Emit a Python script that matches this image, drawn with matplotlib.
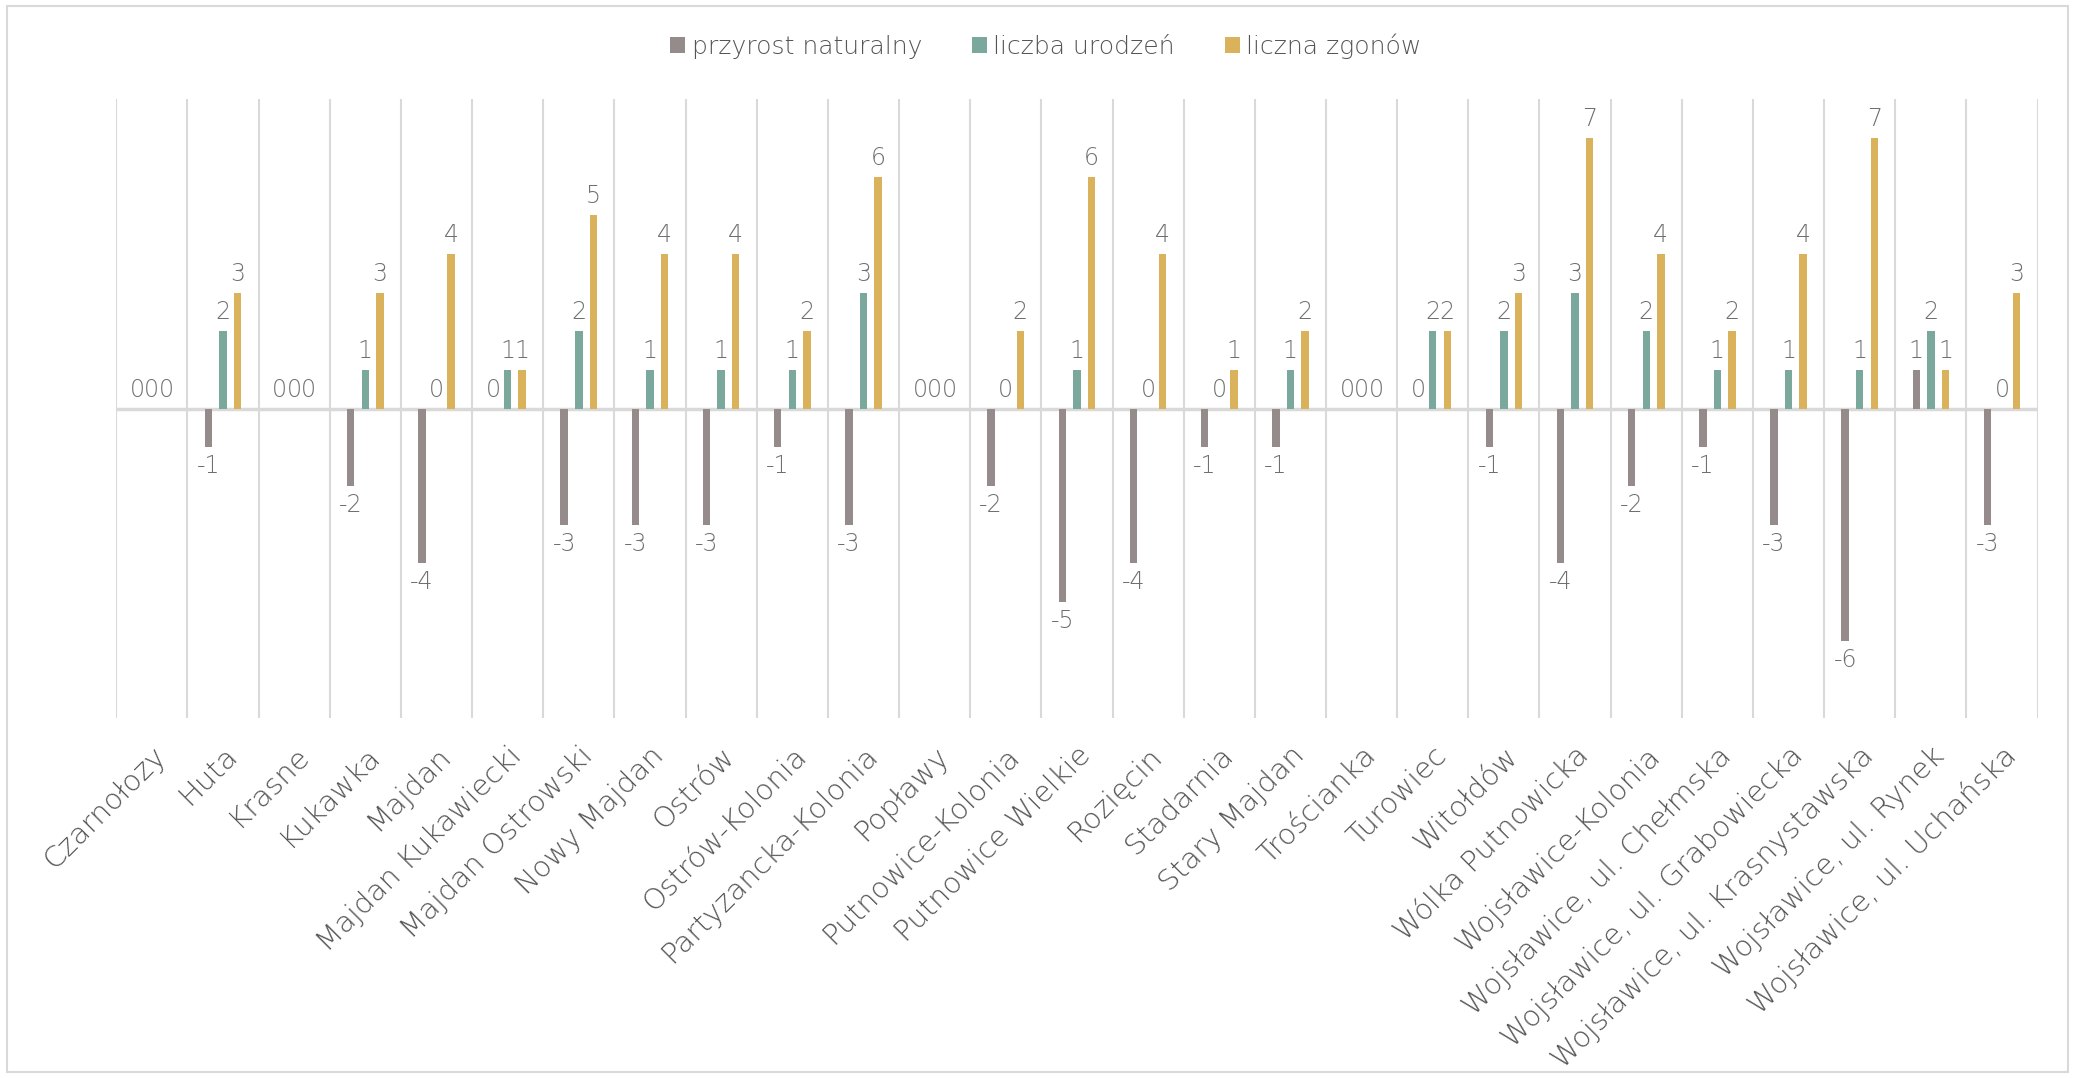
import numpy as np
import matplotlib.pyplot as plt
from matplotlib.patches import Rectangle

plt.rcParams['font.family'] = ['DejaVu Sans']

categories = ["Czarnołozy", "Huta", "Krasne", "Kukawka", "Majdan", "Majdan Kukawiecki",
              "Majdan Ostrowski", "Nowy Majdan", "Ostrów", "Ostrów-Kolonia",
              "Partyzancka-Kolonia", "Popławy", "Putnowice-Kolonia", "Putnowice Wielkie",
              "Rozięcin", "Stadarnia", "Stary Majdan", "Trościanka", "Turowiec", "Witołdów",
              "Wólka Putnowicka", "Wojsławice-Kolonia", "Wojsławice, ul. Chełmska",
              "Wojsławice, ul. Grabowiecka", "Wojsławice, ul. Krasnystawska",
              "Wojsławice, ul. Rynek", "Wojsławice, ul. Uchańska"]
przyrost = [0, -1, 0, -2, -4, 0, -3, -3, -3, -1, -3, 0, -2, -5, -4, -1, -1, 0, 0, -1, -4, -2, -1, -3, -6, 1, -3]
urodzenia = [0, 2, 0, 1, 0, 1, 2, 1, 1, 1, 3, 0, 0, 1, 0, 0, 1, 0, 2, 2, 3, 2, 1, 1, 1, 2, 0]
zgony = [0, 3, 0, 3, 4, 1, 5, 4, 4, 2, 6, 0, 2, 6, 4, 1, 2, 0, 2, 3, 7, 4, 2, 4, 7, 1, 3]

series = [("przyrost naturalny", przyrost, "#958B8B"),
          ("liczba urodzeń", urodzenia, "#7BA89D"),
          ("liczna zgonów", zgony, "#D9B25B")]

fig = plt.figure(figsize=(20.75, 10.78), dpi=100)
ax = fig.add_axes([0.056, 0.334, 0.926, 0.574])

x = np.arange(len(categories))
step = 0.205
width = 0.105
for i, (name, vals, col) in enumerate(series):
    pos = x + (i - 1) * step
    ax.bar(pos, vals, width, color=col, label=name, zorder=3)
    for px, v in zip(pos, vals):
        if v >= 0:
            ax.annotate(str(v), (px, v), xytext=(0, 5), textcoords='offset points',
                        ha='center', va='bottom', fontsize=17, color='#6F6F6F',
                        fontweight='light')
        else:
            ax.annotate(str(v), (px, v), xytext=(0, -5), textcoords='offset points',
                        ha='center', va='top', fontsize=17, color='#6F6F6F',
                        fontweight='light')

ax.set_xlim(-0.5, len(categories) - 0.5)
ax.set_ylim(-8, 8)
for b in np.arange(-0.5, len(categories), 1):
    ax.axvline(b, color='#D9D9D9', lw=1.5, zorder=1)
ax.axhline(0, color='#D9D9D9', lw=2.5, zorder=2)

for s in ax.spines.values():
    s.set_visible(False)
ax.set_yticks([])
ax.set_xticks(x)
ax.set_xticklabels(categories, rotation=45, ha='right', rotation_mode='anchor',
                   fontsize=21, color='#555555', fontweight='light')
ax.tick_params(axis='x', length=0, pad=17)

leg = fig.legend(loc='center', bbox_to_anchor=(0.504, 0.957), ncol=3, frameon=False,
                 fontsize=17.5, labelcolor='#555555', handlelength=0.6, handleheight=0.6,
                 handletextpad=0.25, columnspacing=2.0, prop={'weight': 'light', 'size': 18})

fig.patches.append(Rectangle((0.0035, 0.006), 0.993, 0.988, transform=fig.transFigure,
                             fill=False, edgecolor='#D9D9D9', lw=1.5))

fig.savefig("out.png", dpi=100)
